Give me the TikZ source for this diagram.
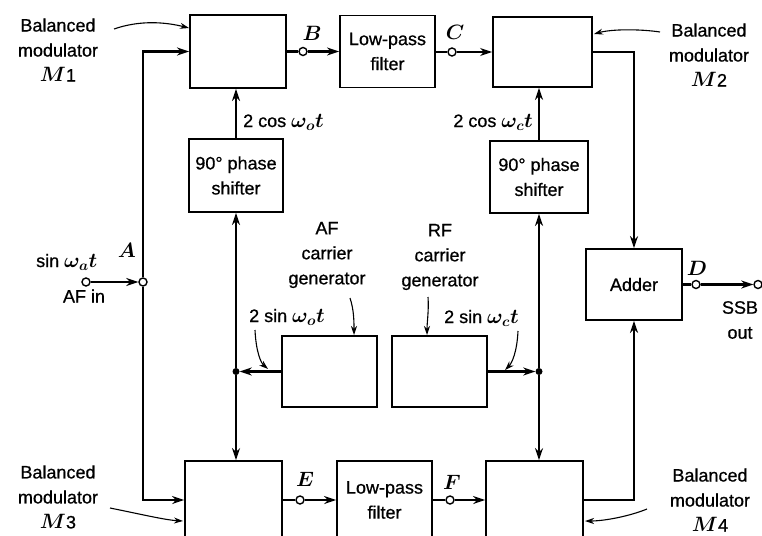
\documentclass[tikz,border=0pt]{standalone}
\usepackage{fontspec}
\setmainfont{Liberation Sans}[FakeBold=0.7]
\usetikzlibrary{arrows.meta}
\newcommand\mth[1]{{\fontsize{21}{25}\selectfont\boldmath$#1$}}
\begin{document}
\begin{tikzpicture}[x=1pt,y=-1pt,
  font=\fontsize{18}{25}\selectfont,
  blk/.style={draw, line width=1.8pt, inner sep=0pt, align=center},
  sig/.style={line width=2.8pt, -{Stealth[length=12pt,width=8pt]}},
  wire/.style={line width=2.8pt},
  lbl/.style={line width=1.1pt, -{Stealth[length=9pt,width=6pt]}},
  port/.style={circle, draw, line width=1.4pt, fill=white, inner sep=0pt, minimum size=8pt},
  jdot/.style={circle, fill, inner sep=0pt, minimum size=7pt},
  txt/.style={align=center, inner sep=0pt}]
\useasboundingbox (0,0) rectangle (762,535);
\clip (0,0) rectangle (762,535);

% blocks
\node[blk, minimum width=96pt, minimum height=73pt] (m1) at (238,51.5) {};
\node[blk, minimum width=95pt, minimum height=72pt] (lpf1) at (387.5,51.5) {Low-pass\\filter};
\node[blk, minimum width=99pt, minimum height=70pt] (m2) at (542.5,52) {};
\node[blk, minimum width=94pt, minimum height=73pt] (ps1) at (236,175.5) {90° phase\\shifter};
\node[blk, minimum width=98pt, minimum height=72pt] (ps2) at (539,177) {90° phase\\shifter};
\node[blk, minimum width=96pt, minimum height=71pt] (adder) at (634,284.5) {Adder};
\node[blk, minimum width=95pt, minimum height=71pt] (afg) at (329.5,371.5) {};
\node[blk, minimum width=95pt, minimum height=71pt] (rfg) at (439.5,371.5) {};
\node[blk, minimum width=97pt, minimum height=78pt] (m3) at (233.5,500) {};
\node[blk, minimum width=95pt, minimum height=78pt] (lpf2) at (384.5,500) {Low-pass\\filter};
\node[blk, minimum width=97pt, minimum height=78pt] (m4) at (534.5,500) {};

% ports and junctions
\node[port] (afin) at (86,282) {};
\node[port] (A) at (143,282) {};
\node[port] (B) at (303,51.5) {};
\node[port] (C) at (452,52) {};
\node[port] (D) at (696,284.5) {};
\node[port] (out) at (758,284.5) {};
\node[port] (E) at (300,500) {};
\node[port] (F) at (450,500) {};
\node[jdot] (j1) at (236,371.5) {};
\node[jdot] (j2) at (539,371.5) {};

% signal lines
\draw[sig] (afin) -- (A);
\draw[sig] (A) |- (m1.west);
\draw[sig] (A) |- (m3.west);
\draw[wire] (m1.east) -- (B);
\draw[sig] (B) -- (B -| lpf1.west);
\draw[wire] (C -| lpf1.east) -- (C);
\draw[sig] (C) -- (m2.west);
\draw[sig] (m2.east) -| (adder.north);
\draw[sig] (m4.east) -| (adder.south);
\draw[wire] (adder.east) -- (D);
\draw[sig] (D) -- (out);
\draw[sig] (ps1.north) -- (ps1.north |- m1.south);
\draw[sig] (ps2.north) -- (ps2.north |- m2.south);
\draw[sig] (afg.west) -- (j1);
\draw[sig] (j1) -- (ps1.south);
\draw[sig] (j1) -- (j1 |- m3.north);
\draw[sig] (rfg.east) -- (j2);
\draw[sig] (j2) -- (ps2.south);
\draw[sig] (j2) -- (j2 |- m4.north);
\draw[wire] (m3.east) -- (E);
\draw[sig] (E) -- (lpf2.west);
\draw[wire] (lpf2.east) -- (F);
\draw[sig] (F) -- (m4.west);

% text labels
\node[txt] (lm1) at (58,50) {Balanced\\modulator\\\mth{M}1};
\node[txt] (lm2) at (709,55) {Balanced\\modulator\\\mth{M}2};
\node[txt] (lm3) at (58,497) {Balanced\\modulator\\\mth{M}3};
\node[txt] (lm4) at (710,500) {Balanced\\modulator\\\mth{M}4};
\node[txt] (afl) at (327,255) {AF\\carrier\\generator};
\node[txt] (rfl) at (440,257) {RF\\carrier\\generator};
\node[txt, anchor=west] (c1) at (243,122) {2 cos \mth{\omega_o t}};
\node[txt, anchor=east] (c2) at (533,122) {2 cos \mth{\omega_c t}};
\node[txt, anchor=west] (s1) at (249,317) {2 sin \mth{\omega_o t}};
\node[txt, anchor=west] (s2) at (444,318) {2 sin \mth{\omega_c t}};
\node[txt, anchor=west] (sa) at (36,262) {sin \mth{\omega_a t}};
\node[txt] (afint) at (84,296) {AF in};
\node[txt] (ssb) at (740,320) {SSB\\out};
\node[txt] (lA) at (127,250) {\mth{A}};
\node[txt] (lB) at (312,33) {\mth{B}};
\node[txt] (lC) at (455,32) {\mth{C}};
\node[txt] (lD) at (697,268) {\mth{D}};
\node[txt] (lE) at (305,479) {\mth{E}};
\node[txt] (lF) at (452,482) {\mth{F}};

% label pointers
\coordinate (p1a) at (114,29); \coordinate (p1b) at (189,28);
\draw[lbl] (p1a) .. controls (140,20) and (165,22) .. (p1b);
\coordinate (p2a) at (660,32); \coordinate (p2b) at (594,34);
\draw[lbl] (p2a) .. controls (640,29) and (612,29) .. (p2b);
\coordinate (p3a) at (110,508); \coordinate (p3b) at (183,521);
\draw[lbl] (p3a) .. controls (140,514) and (165,520) .. (p3b);
\coordinate (p4a) at (647,509); \coordinate (p4b) at (585,521);
\draw[lbl] (p4a) .. controls (630,516) and (605,521) .. (p4b);
\coordinate (p5a) at (350,298); \coordinate (p5b) at (354,335);
\draw[lbl] (p5a) .. controls (354,310) and (354,322) .. (p5b);
\coordinate (p6a) at (428,297); \coordinate (p6b) at (427,335);
\draw[lbl] (p6a) .. controls (429,310) and (427,322) .. (p6b);
\coordinate (p7a) at (255,330); \coordinate (p7b) at (268,369);
\draw[lbl] (p7a) .. controls (256,352) and (261,363) .. (p7b);
\coordinate (p8a) at (518,331); \coordinate (p8b) at (505,370);
\draw[lbl] (p8a) .. controls (517,352) and (512,363) .. (p8b);
\end{tikzpicture}
\end{document}
